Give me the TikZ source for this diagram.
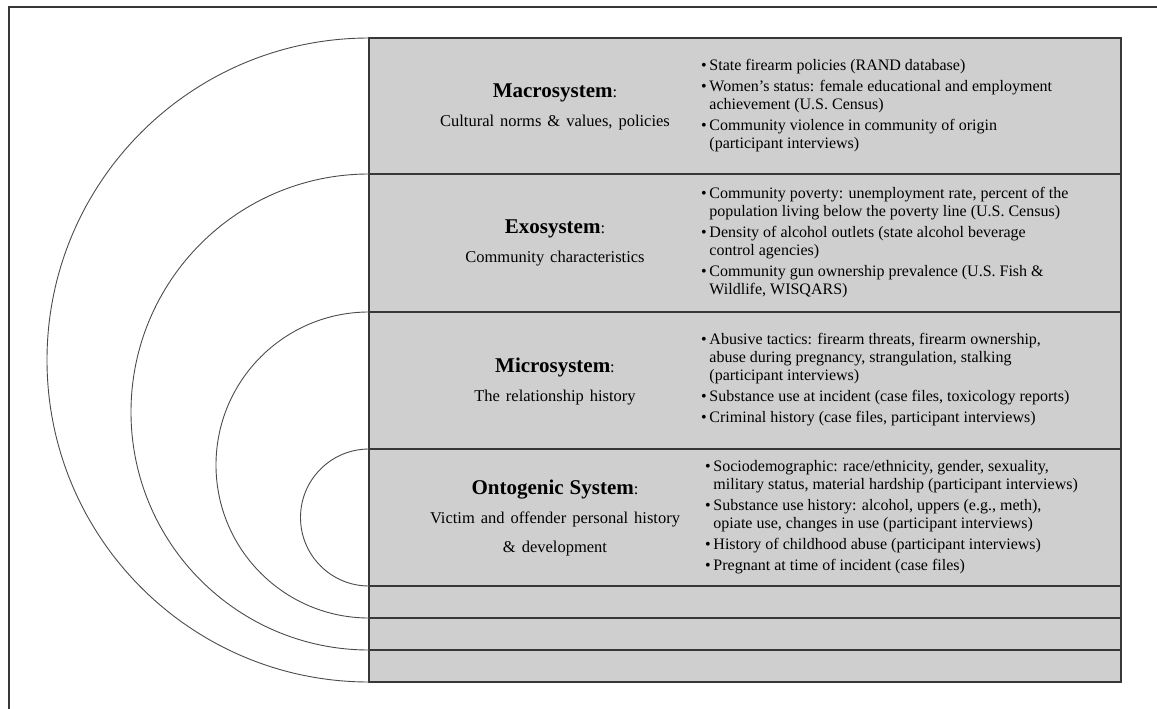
\documentclass[tikz,border=0pt]{standalone}
\usepackage{fontspec}
\setmainfont{Liberation Serif}
\usepackage{xcolor}
\definecolor{rowgray}{RGB}{207,207,207}
\definecolor{edgegray}{RGB}{55,55,55}
\usepackage{tikz}
\newcommand{\bul}{\textbullet\,}
\newcommand{\hang}{\phantom{\textbullet\,}}
\newcommand{\sysfont}{\fontsize{21}{24}\selectfont\bfseries}
\newcommand{\widespace}{\spaceskip=6pt plus 2pt\relax}

\begin{document}
\begin{tikzpicture}[x=1pt, y=-1pt,
    ring/.style={draw=edgegray!90, line width=0.9pt},
    rule/.style={draw=edgegray, line width=1.2pt},
    sysname/.style={align=center, font=\fontsize{16.5}{29}\selectfont\widespace},
    factors/.style={align=left, anchor=west, inner sep=0pt,
                    font=\fontsize{16}{18}\selectfont},
  ]
  \useasboundingbox (0,0) rectangle (1157,709);
  % cropped frame
  \draw[rule] (9,709) -- (9,7) -- (1157,7);
  % table
  \coordinate (tl) at (369,38);
  \coordinate (br) at (1121,682);
  \fill[rowgray] (tl) rectangle (br);
  \foreach \y in {174,312,449,586,618,650}
    \draw[rule] (369,\y) -- (1121,\y);
  \draw[rule] (tl) rectangle (br);
  % nested half circles
  \foreach \t/\b in {38/682,174/650,312/618,449/586}
    \draw[ring] (369,\t) arc[start angle=270, end angle=90, radius={(\b-\t)/2}];

  \node[sysname] (macro) at (555,107) {{\sysfont Macrosystem}:\\Cultural norms \& values, policies};
  \node[sysname] (exo) at (555,243) {{\sysfont Exosystem}:\\Community characteristics};
  \node[sysname] (micro) at (555,381) {{\sysfont Microsystem}:\\The relationship history};
  \node[sysname] (onto) at (555,518) {{\sysfont Ontogenic System}:\\Victim and offender personal history\\\& development};

  \node[factors] (macrof) at (701,106) {%
    \bul State firearm policies (RAND database)\\[3pt]
    \bul Women's status: female educational and employment\\
    \hang achievement (U.S. Census)\\[3pt]
    \bul Community violence in community of origin\\
    \hang (participant interviews)};
  \node[factors] (exof) at (701,243) {%
    \bul Community poverty: unemployment rate, percent of the\\
    \hang population living below the poverty line (U.S. Census)\\[3pt]
    \bul Density of alcohol outlets (state alcohol beverage\\
    \hang control agencies)\\[3pt]
    \bul Community gun ownership prevalence (U.S. Fish \&\\
    \hang Wildlife, WISQARS)};
  \node[factors] (microf) at (701,380) {%
    \bul Abusive tactics: firearm threats, firearm ownership,\\
    \hang abuse during pregnancy, strangulation, stalking\\
    \hang (participant interviews)\\[3pt]
    \bul Substance use at incident (case files, toxicology reports)\\[3pt]
    \bul Criminal history (case files, participant interviews)};
  \node[factors] (ontof) at (705,517) {%
    \bul Sociodemographic: race/ethnicity, gender, sexuality,\\
    \hang military status, material hardship (participant interviews)\\[3pt]
    \bul Substance use history: alcohol, uppers (e.g., meth),\\
    \hang opiate use, changes in use (participant interviews)\\[3pt]
    \bul History of childhood abuse (participant interviews)\\[3pt]
    \bul Pregnant at time of incident (case files)};
\end{tikzpicture}
\end{document}
